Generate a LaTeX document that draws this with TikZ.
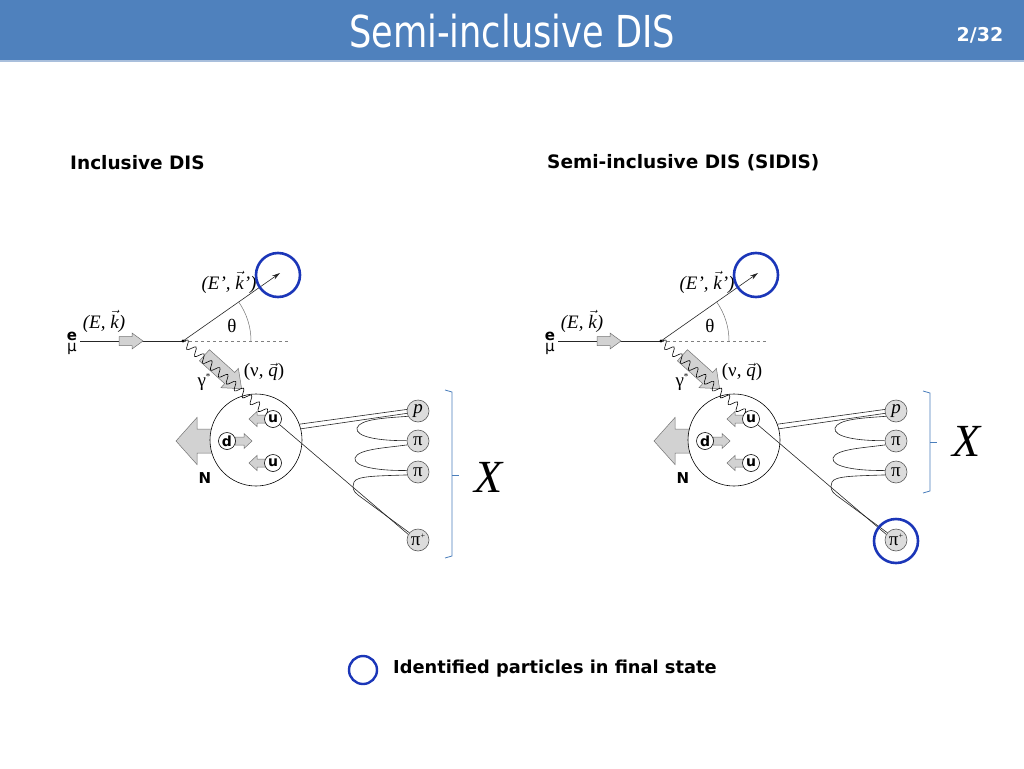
\documentclass[tikz,border=0pt]{standalone}
\usepackage{fontspec}
\setmainfont{DejaVu Sans}
\newfontfamily\titlefont[FakeStretch=0.80]{DejaVu Sans}
\newfontfamily\serif{Liberation Serif}
\usetikzlibrary{decorations.pathmorphing,arrows.meta,calc}
\definecolor{hdr}{HTML}{4F81BD}
\definecolor{hdrline}{HTML}{A9BFDC}
\definecolor{idblue}{HTML}{1B36B8}
\definecolor{brk}{HTML}{4A7EBB}
\definecolor{agray}{HTML}{D2D2D2}
\definecolor{hgray}{HTML}{DCDCDC}
\tikzset{
  thinline/.style={line width=0.6pt, draw=black!85},
  blkstyle/.style={draw=black!55, fill=agray, line width=0.5pt},
  pics/blockarrow/.style n args={4}{code={
    \draw[blkstyle] (-#1/2,-#2/2) -- (#1/2-#4,-#2/2) -- (#1/2-#4,-#3/2) -- (#1/2,0)
      -- (#1/2-#4,#3/2) -- (#1/2-#4,#2/2) -- (-#1/2,#2/2) -- cycle;
  }},
  quark/.style={circle, draw=black, fill=white, line width=0.6pt, inner sep=0pt, minimum size=17pt, font=\bfseries\fontsize{14}{14}\selectfont},
  hadron/.style={circle, draw=black!65, fill=hgray, line width=0.6pt, inner sep=0pt, minimum size=22pt, font=\serif\fontsize{19}{19}\selectfont},
  lbl/.style={inner sep=0pt, font=\serif\fontsize{19}{19}\selectfont},
  elabel/.style={inner sep=0pt, font=\bfseries\fontsize{15}{15}\selectfont},
  idcirc/.style={circle, draw=idblue, line width=2.6pt, inner sep=0pt},
  brace/.style={draw=brk, line width=0.8pt},
  photon/.style={decorate, decoration={snake, segment length=10.5pt, amplitude=4pt}, line width=0.6pt},
  strng/.style={line width=0.6pt, draw=black!85}
}
\newcommand\disdiagram{%
  \coordinate (v) at (183,341);
  \coordinate (ein) at (80,341);
  \coordinate (dend) at (288,341);
  \coordinate (kout) at (280,273);
  \coordinate (bend) at (243,393);
  \node[elabel] (le) at (72,336) {e};
  \node[inner sep=0pt, font=\fontsize{15}{15}\selectfont] (lmu) at (72,349) {μ};
  \draw[thinline] (ein) -- (v);
  \pic at (131,341) {blockarrow={24}{9}{16}{11}};
  \draw[dashed, draw=black!50, line width=0.5pt] (v) -- (dend);
  \draw[thinline, -{Stealth[length=8pt,width=4.5pt]}] (v) -- (kout);
  \fill (v) circle (1.6pt);
  \draw[draw=black!55, line width=0.5pt] ($(v)+(68,0)$) arc[start angle=0, end angle=-35, radius=68];
  \node[lbl] (th) at (232,326) {θ};
  \node[lbl] (kin) at (104,321) {\itshape (E, $\vec{\mbox{\serif\itshape k}}$)};
  \node[lbl] (kpr) at (229,282) {\itshape (E’, $\vec{\mbox{\serif\itshape k}}$’)};
  % nucleon
  \pic[rotate=180] at (194,441) {blockarrow={36}{24}{47}{21}};
  \node[circle, draw=black, fill=white, line width=0.6pt, minimum size=92pt, inner sep=0pt] (nuc) at (256,440) {};
  \node[elabel] (lN) at (205,478) {N};
  % photon
  \pic[rotate=-42] at (223,372) {blockarrow={50}{15}{26}{16}};
  \node[lbl] (lgam) at (204,382) {γ\raisebox{0.9ex}{\fontsize{9}{9}\selectfont *}};
  \node[lbl] (lnu) at (264,372) {(ν, $\vec{\mbox{\serif\itshape q}}$)};
  % quark arrows
  \pic[rotate=180] at (257.5,419) {blockarrow={17}{8}{15}{8}};
  \pic at (243.5,441) {blockarrow={17}{8}{15}{8}};
  \pic[rotate=180] at (257.5,463) {blockarrow={17}{8}{15}{8}};
  \coordinate (uqc) at (273,419);
  \draw[photon] (v) -- (bend) -- (uqc);
  \node[quark] (uq) at (273,419) {u};
  \node[quark] (dq) at (227,441) {d};
  \node[quark] (uq2) at (273,463) {u};
  % hadrons
  \node[hadron] (p) at (418,411) {\itshape p};
  \node[hadron] (pi1) at (418,441) {π};
  \node[hadron] (pi2) at (418,472) {π};
  \node[hadron] (pip) at (418,540) {π\raisebox{0.8ex}{\fontsize{8}{8}\selectfont +}};
  \draw[strng] (nuc.20) -- (p.172);
  \draw[strng] (nuc.14) -- (p.192);
  \draw[strng] (p.208) .. controls (385,418) and (360,419) .. (357,428) .. controls (355,437) and (380,441) .. (pi1.178);
  \draw[strng] (pi1.200) .. controls (385,448) and (358,449) .. (355,458) .. controls (353,467) and (380,471) .. (pi2.172);
  \draw[strng] (pi2.195) .. controls (375,476) and (357,476) .. (354,482) .. controls (352,488) and (353,491) .. (358,495) -- (pip.140);
  \draw[strng] (uq) -- (pip.150);
}
\begin{document}
\begin{tikzpicture}[x=1pt,y=-1pt]
\useasboundingbox (0,0) rectangle (1024,768);
\fill[white] (0,0) rectangle (1024,768);
\fill[hdr] (0,0) rectangle (1024,60);
\draw[hdrline, line width=1.5pt] (0,61) -- (1024,61);
\node[text=white, font=\titlefont\fontsize{44}{44}\selectfont, inner sep=0pt] (title) at (512,31) {Semi-inclusive DIS};
\node[text=white, font=\bfseries\fontsize{19}{19}\selectfont, inner sep=0pt] (page) at (980,35) {2/32};
\node[anchor=west, font=\bfseries\fontsize{18.5}{18.5}\selectfont, inner sep=0pt] (h1) at (70,163) {Inclusive DIS};
\node[anchor=west, font=\bfseries\fontsize{18.5}{18.5}\selectfont, inner sep=0pt] (h2) at (547,163) {Semi-inclusive DIS (SIDIS)};
\begin{scope}[name prefix=L-]
  \disdiagram
  \node[idcirc, minimum size=44pt] (idk) at (278,275) {};
  \coordinate (b1) at (445,390);
  \coordinate (b2) at (452,392);
  \coordinate (b3) at (452,475);
  \coordinate (b4) at (459,475);
  \coordinate (b5) at (452,556);
  \coordinate (b6) at (445,558);
  \draw[brace] (b1) -- (b2) -- (b3) -- (b5) -- (b6);
  \draw[brace] (b3) -- (b4);
  \node[font=\serif\itshape\fontsize{46}{46}\selectfont, inner sep=0pt] (X) at (489,477) {X};
\end{scope}
\begin{scope}[xshift=478pt, name prefix=R-]
  \disdiagram
  \node[idcirc, minimum size=44pt] (idk) at (278,275) {};
  \node[idcirc, minimum size=44pt] (idpi) at (418,541) {};
  \coordinate (b1) at (445,391);
  \coordinate (b2) at (452,393);
  \coordinate (b3) at (452,442);
  \coordinate (b4) at (459,442);
  \coordinate (b5) at (452,491);
  \coordinate (b6) at (445,493);
  \draw[brace] (b1) -- (b2) -- (b3) -- (b5) -- (b6);
  \draw[brace] (b3) -- (b4);
  \node[font=\serif\itshape\fontsize{46}{46}\selectfont, inner sep=0pt] (X) at (489,441) {X};
\end{scope}
\node[idcirc, minimum size=28pt, line width=2.4pt] (leg) at (363,670) {};
\node[anchor=west, font=\bfseries\fontsize{17.8}{17.8}\selectfont, inner sep=0pt] (legt) at (393,669) {Identified particles in final state};
\end{tikzpicture}
\end{document}
